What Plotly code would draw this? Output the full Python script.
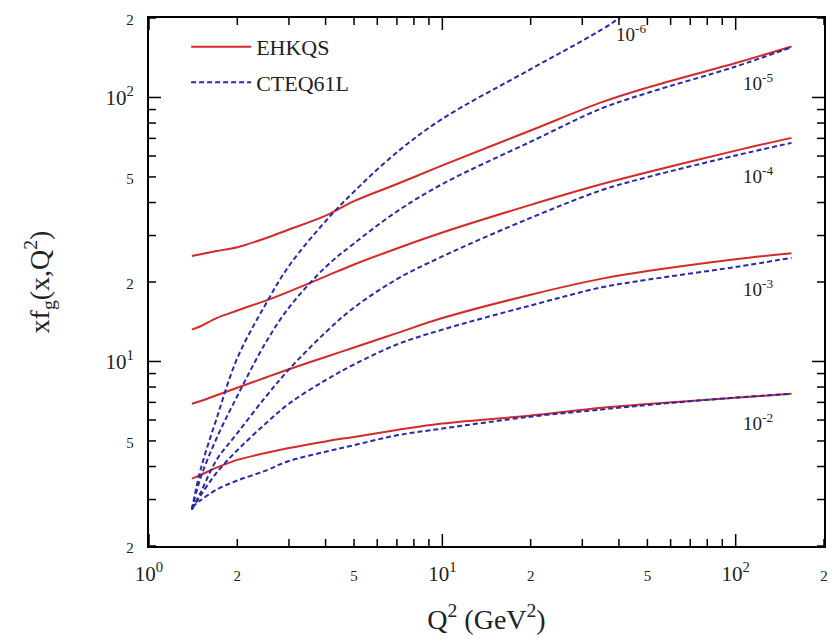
import numpy as np
import plotly.graph_objects as go

# ---------------- data ----------------
Q2 = [1.4, 1.5, 1.7, 2, 2.5, 3, 4, 5, 7, 10, 20, 35, 50, 100, 155]

ehkqs_1e2 = [3.60, 3.72, 3.96, 4.24, 4.50, 4.70, 4.98, 5.18, 5.50, 5.82, 6.24, 6.68, 6.90, 7.28, 7.54]
ehkqs_1e3 = [6.92, 7.08, 7.45, 7.95, 8.70, 9.35, 10.4, 11.3, 12.8, 14.6, 17.9, 20.6, 22.0, 24.4, 25.7]
ehkqs_1e4 = [13.2, 13.6, 14.6, 15.6, 17.0, 18.4, 21.0, 23.3, 26.8, 30.8, 39.2, 47.0, 52.1, 62.9, 70.3]
ehkqs_1e5 = [25.1, 25.5, 26.2, 27.1, 29.3, 31.6, 35.7, 40.5, 47.0, 55.3, 75.0, 96.0, 109, 135, 156]

cteq_1e2 = [2.81, 2.98, 3.27, 3.54, 3.86, 4.20, 4.55, 4.82, 5.25, 5.57, 6.18, 6.58, 6.84, 7.30, 7.54]
cteq_1e3 = [2.75, 3.11, 3.79, 4.61, 5.82, 6.92, 8.50, 9.74, 11.6, 13.2, 16.3, 19.1, 20.4, 22.8, 24.7]
cteq_1e4 = [2.75, 3.19, 4.24, 5.35, 7.35, 9.33, 12.9, 16.0, 20.5, 25.0, 35.0, 44.6, 49.9, 60.3, 67.3]
cteq_1e5 = [2.75, 3.63, 5.12, 7.40, 11.8, 16.0, 22.8, 28.0, 37.0, 47.0, 68.0, 91.0, 104, 131, 155]
cteq_1e6 = [2.75, 3.90, 6.08, 10.3, 16.5, 23.0, 34.0, 44.0, 62.0, 83.0, 128, 181, 234, 330, 390]

ehkqs_series = [ehkqs_1e2, ehkqs_1e3, ehkqs_1e4, ehkqs_1e5]
cteq_series = [cteq_1e2, cteq_1e3, cteq_1e4, cteq_1e5, cteq_1e6]

# curve labels (x-value text and its place in data units)
curve_labels = ["10<sup>-6</sup>", "10<sup>-5</sup>", "10<sup>-4</sup>", "10<sup>-3</sup>", "10<sup>-2</sup>"]
label_q2 = [44, 119, 119, 119, 119]
label_xf = [175, 114, 51, 19, 5.9]

# axis ticks and their labels
x_ticks = [1, 2, 3, 4, 5, 6, 7, 8, 9, 10, 20, 30, 40, 50, 60, 70, 80, 90, 100, 200]
x_tick_text = ["10<sup>0</sup>", "2", "", "", "5", "", "", "", "", "10<sup>1</sup>",
               "2", "", "", "5", "", "", "", "", "10<sup>2</sup>", "2"]
x_decades = [1, 10, 100]

y_ticks = [2, 3, 4, 5, 6, 7, 8, 9, 10, 20, 30, 40, 50, 60, 70, 80, 90, 100, 200]
y_tick_text = ["2", "", "", "5", "", "", "", "", "10<sup>1</sup>",
               "2", "", "", "5", "", "", "", "", "10<sup>2</sup>", "2"]
y_decades = [10, 100]

RED = "#d42a2a"
BLUE = "#2a2aa8"
FONT = "Liberation Serif"
X_RANGE = [0, np.log10(200)]
Y_RANGE = [np.log10(2), np.log10(200)]
MAJOR_LEN, MINOR_LEN = 12, 7


def fmt(texts):
    return [t if ("sup" in t or t == "") else
            '<span style="font-size:15px">' + t + "</span>" for t in texts]


fig = go.Figure()
for i, ys in enumerate(ehkqs_series):
    fig.add_trace(go.Scatter(x=Q2, y=ys, mode="lines",
                             line=dict(color=RED, width=2, shape="spline", smoothing=1.0),
                             name="EHKQS", legendgroup="e", showlegend=(i == 0)))
for i, ys in enumerate(cteq_series):
    fig.add_trace(go.Scatter(x=Q2, y=ys, mode="lines",
                             line=dict(color=BLUE, width=2, dash="5px,3px",
                                       shape="spline", smoothing=1.0),
                             name="CTEQ61L", legendgroup="c", showlegend=(i == 0)))

annotations = []
for t, xq, yv in zip(curve_labels, label_q2, label_xf):
    annotations.append(dict(x=np.log10(xq), y=np.log10(yv), xref="x", yref="y",
                            text=t, showarrow=False,
                            font=dict(family=FONT, size=19, color="#222")))

# inward tick marks on all four sides, placed through the axes' own log scales
# (shape coordinates on log axes are given as data values)
shapes = []
tick_line = dict(color="black", width=1.5)
for v in x_ticks:
    L = MAJOR_LEN if v in x_decades else MINOR_LEN
    for anchor, sign in ((0, 1), (1, -1)):
        shapes.append(dict(type="line", xref="x", yref="paper", ysizemode="pixel",
                           yanchor=anchor, x0=v, x1=v,
                           y0=0, y1=sign * L, line=tick_line, layer="above"))
for v in y_ticks:
    L = MAJOR_LEN if v in y_decades else MINOR_LEN
    for anchor, sign in ((0, 1), (1, -1)):
        shapes.append(dict(type="line", yref="y", xref="paper", xsizemode="pixel",
                           xanchor=anchor, y0=v, y1=v,
                           x0=0, x1=sign * L, line=tick_line, layer="above"))

fig.update_layout(
    width=840, height=642,
    margin=dict(l=149, r=16, t=12, b=94),
    paper_bgcolor="white", plot_bgcolor="white",
    showlegend=True,
    legend=dict(x=0.055, y=0.985, xanchor="left", yanchor="top",
                bgcolor="rgba(0,0,0,0)", itemwidth=60,
                font=dict(family=FONT, size=22, color="#222"),
                tracegroupgap=4),
    xaxis=dict(type="log", range=X_RANGE, ticks="", tickmode="array",
               showgrid=False, zeroline=False,
               showline=True, linecolor="black", linewidth=2, mirror=True,
               tickfont=dict(family=FONT, size=21, color="#222"),
               tickvals=x_ticks, ticktext=fmt(x_tick_text),
               ticklabelstandoff=8,
               title=dict(text="Q<sup>2</sup> (GeV<sup>2</sup>)", standoff=24,
                          font=dict(family=FONT, size=28, color="#222"))),
    yaxis=dict(type="log", range=Y_RANGE, ticks="", tickmode="array",
               showgrid=False, zeroline=False,
               showline=True, linecolor="black", linewidth=2, mirror=True,
               tickfont=dict(family=FONT, size=21, color="#222"),
               tickvals=y_ticks, ticktext=fmt(y_tick_text),
               ticklabelstandoff=9,
               title=dict(text="xf<sub>g</sub>(x,Q<sup>2</sup>)", standoff=48,
                          font=dict(family=FONT, size=28, color="#222"))),
    shapes=shapes,
    annotations=annotations,
)

fig.write_html("out.html")
